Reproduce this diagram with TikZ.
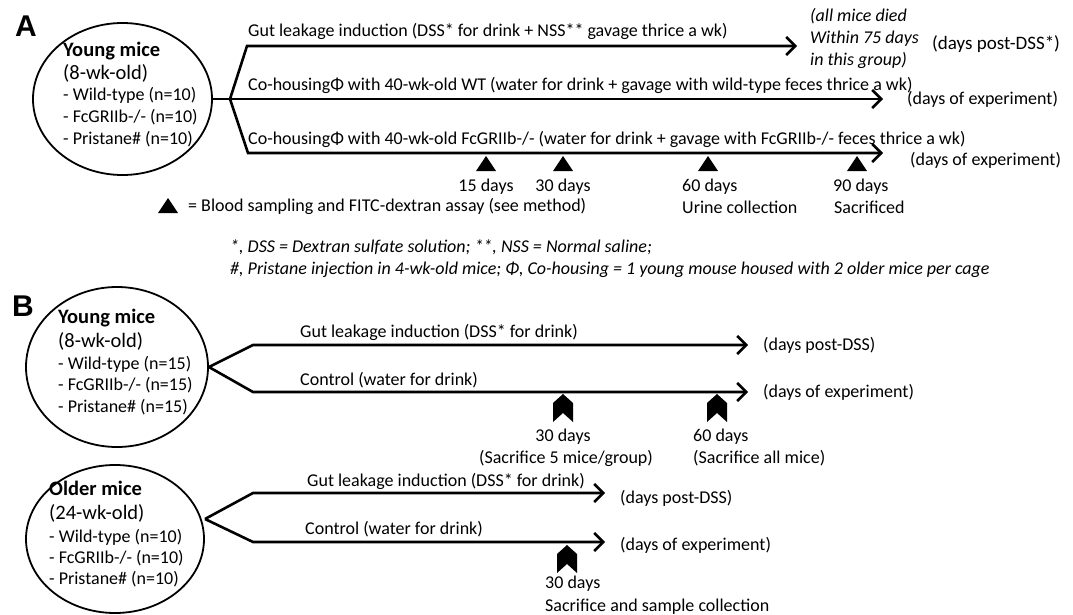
\documentclass[tikz,border=0pt]{standalone}
\usepackage{fontspec}
\setmainfont{Carlito}
\newfontfamily\panelfont{Liberation Sans}
\usetikzlibrary{arrows.meta,shapes.geometric}
\begin{document}
\begin{tikzpicture}[x=1pt,y=-1pt,
  mouse/.style={draw,ellipse,line width=1.8pt,inner sep=0pt},
  lbl/.style={font=\fontsize{18}{22}\selectfont,inner sep=0pt,anchor=base west},
  lblc/.style={lbl,anchor=base},
  note/.style={lbl,font=\fontsize{18}{22}\selectfont\itshape},
  grp/.style={lbl,align=left},
  grph/.style={lbl,align=left,font=\fontsize{20.5}{23.5}\selectfont},
  panel/.style={font=\panelfont\bfseries\fontsize{30}{31}\selectfont,inner sep=0pt,anchor=base west},
  tl/.style={line width=2.6pt,-{Straight Barb[length=9pt,width=18pt]}},
  br/.style={line width=2.6pt},
  tri/.pic={\fill (0,0) -- (10,15) -- (-10,15) -- cycle;},
  chev/.pic={\fill (0,0) -- (10,9) -- (10,28) -- (0,19) -- (-10,28) -- (-10,9) -- cycle;}
]
\useasboundingbox (0,0) rectangle (1073,615);

% ---------------- Panel A ----------------
\node[panel] (pA) at (15,37) {A};
\node[mouse,minimum width=179pt,minimum height=152pt] (ya) at (122.5,99) {};
\node[grph] (yah) at (63,80) {\textbf{Young mice}\\(8-wk-old)};
\node[grp] (yat) at (63,145) {- Wild-type (n=10)\\- FcGRIIb-/- (n=10)\\- Pristane\# (n=10)};

\coordinate (abr) at (230,99);
\coordinate (a1s) at (247,46);
\coordinate (a1e) at (797,46);
\coordinate (a2e) at (883,99);
\coordinate (a3s) at (248,153);
\coordinate (a3e) at (883,153);
\draw[br] (ya.east) -- (abr);
\draw[tl] (abr) -- (a1s) -- (a1e);
\draw[tl] (ya.east) -- (a2e);
\draw[tl] (abr) -- (a3s) -- (a3e);

\node[lbl] (la1) at (248,37) {Gut leakage induction (DSS* for drink + NSS** gavage thrice a wk)};
\node[lbl] (la2) at (248,91) {Co-housingΦ with 40-wk-old WT (water for drink + gavage with wild-type feces thrice a wk)};
\node[lbl] (la3) at (248,145) {Co-housingΦ with 40-wk-old FcGRIIb-/- (water for drink + gavage with FcGRIIb-/- feces thrice a wk)};

\node[note,align=left] (died) at (810,66) {(all mice died\\Within 75 days\\in this group)};
\node[lbl,font=\fontsize{19}{22}\selectfont] (pdA) at (932,50) {(days post-DSS*)};
\node[lbl] (exA1) at (907,105) {(days of experiment)};
\node[lbl] (exA2) at (910,165) {(days of experiment)};

\pic at (486,156) {tri};
\pic at (563,156) {tri};
\pic at (708,156) {tri};
\pic at (857,156) {tri};
\node[lblc] (d15) at (486,191) {15 days};
\node[lblc] (d30) at (563,191) {30 days};
\node[lbl] (d60) at (682,191) {60 days};
\node[lbl] (urine) at (682,213) {Urine collection};
\node[lbl] (d90) at (833,191) {90 days};
\node[lbl] (sac) at (834,213) {Sacrificed};

\pic at (168,198) {tri};
\node[lbl] (leg) at (188,211) {= Blood sampling and FITC-dextran assay (see method)};

\node[note] (fn1) at (230,252) {*, DSS = Dextran sulfate solution; **, NSS = Normal saline;};
\node[note] (fn2) at (230,274) {\#, Pristane injection in 4-wk-old mice; Φ, Co-housing = 1 young mouse housed with 2 older mice per cage};

% ---------------- Panel B ----------------
\node[panel] (pB) at (12,316) {B};

\node[mouse,minimum width=182pt,minimum height=160pt] (yb) at (117,367) {};
\node[grph] (ybh) at (58,347) {\textbf{Young mice}\\(8-wk-old)};
\node[grp,font=\fontsize{18}{21.5}\selectfont] (ybt) at (58,412) {- Wild-type (n=15)\\- FcGRIIb-/- (n=15)\\- Pristane\# (n=15)};

\coordinate (b1s) at (253,345);
\coordinate (b1e) at (748,345);
\coordinate (b2s) at (253,392);
\coordinate (b2e) at (748,392);
\draw[tl] (yb.east) -- (b1s) -- (b1e);
\draw[tl] (yb.east) -- (b2s) -- (b2e);

\node[lbl] (lb1) at (300,337) {Gut leakage induction (DSS* for drink)};
\node[lbl] (lb2) at (300,385) {Control (water for drink)};
\node[lbl] (pdB) at (763,350) {(days post-DSS)};
\node[lbl] (exB) at (763,397) {(days of experiment)};

\pic at (563,394) {chev};
\pic at (717,394) {chev};
\node[lblc] (e30) at (563,441) {30 days};
\node[lblc] (s5) at (566,463) {(Sacrifice 5 mice/group)};
\node[lbl] (e60) at (693,441) {60 days};
\node[lbl] (sall) at (693,463) {(Sacrifice all mice)};

\node[mouse,minimum width=178pt,minimum height=148pt] (ob) at (115,539) {};
\node[grph] (obh) at (49,519) {\textbf{Older mice}\\(24-wk-old)};
\node[grp,font=\fontsize{18}{21}\selectfont] (obt) at (49,584) {- Wild-type (n=10)\\- FcGRIIb-/- (n=10)\\- Pristane\# (n=10)};

\coordinate (obr) at (205,519);
\coordinate (c1s) at (253,493);
\coordinate (c1e) at (605,493);
\coordinate (c2s) at (253,542);
\coordinate (c2e) at (605,542);
\draw[tl] (obr) -- (c1s) -- (c1e);
\draw[tl] (obr) -- (c2s) -- (c2e);

\node[lbl] (lc1) at (307,486) {Gut leakage induction (DSS* for drink)};
\node[lbl] (lc2) at (305,534) {Control (water for drink)};
\node[lbl] (pdC) at (620,503) {(days post-DSS)};
\node[lbl] (exC) at (620,550) {(days of experiment)};

\pic at (567,545) {chev};
\node[lbl] (f30) at (545,588) {30 days};
\node[lbl] (fsac) at (545,611) {Sacrifice and sample collection};
\end{tikzpicture}
\end{document}
